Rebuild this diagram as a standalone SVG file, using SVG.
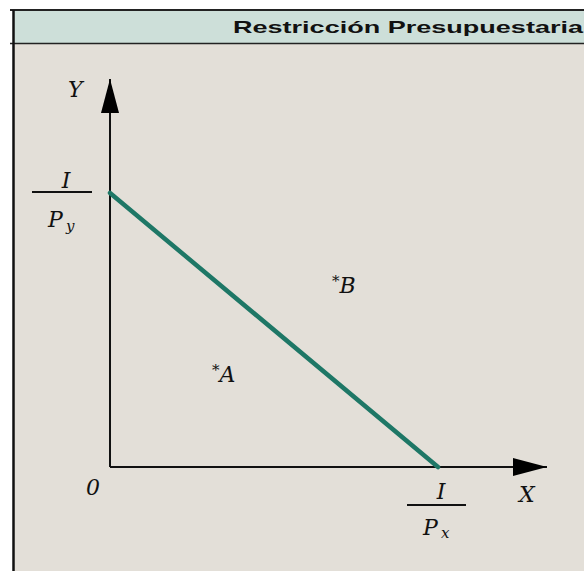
<svg xmlns="http://www.w3.org/2000/svg" width="584" height="571" viewBox="0 0 584 571">
<style>
.m{font-family:"DejaVu Serif","Liberation Serif",serif;font-style:italic;font-size:22px;fill:#111}
.s{font-size:15px}
.ax{stroke:#111;stroke-width:2;fill:none}
.bar{stroke:#111;stroke-width:1.8}
</style>
<defs>
<marker id="ah" markerUnits="userSpaceOnUse" markerWidth="36" markerHeight="22" refX="34" refY="10" orient="auto">
<path d="M0,1 L34,10 L0,19 Z" fill="#000"/>
</marker>
</defs>
<rect x="0" y="0" width="584" height="571" fill="#ffffff"/>
<rect x="13" y="10" width="571" height="33" fill="#cddfd9"/>
<rect x="13" y="43" width="571" height="528" fill="#e3dfd8"/>
<line x1="10" y1="10" x2="584" y2="10" stroke="#222" stroke-width="2"/>
<line x1="10" y1="43.5" x2="584" y2="43.5" stroke="#222" stroke-width="1.5"/>
<line x1="13.5" y1="10" x2="13.5" y2="571" stroke="#111" stroke-width="2.5"/>
<text x="583" y="33" text-anchor="end" font-family="'Liberation Sans',Arial,sans-serif" font-weight="bold" font-size="17" fill="#111" textLength="350" lengthAdjust="spacingAndGlyphs">Restricción Presupuestaria</text>
<g id="connectors">
<line class="ax" x1="110" y1="467" x2="110" y2="79" marker-end="url(#ah)"/>
<line class="ax" x1="110" y1="467" x2="547" y2="467" marker-end="url(#ah)"/>
<line x1="110" y1="193" x2="438" y2="467" stroke="#1e7766" stroke-width="4.5" stroke-linecap="round"/>
</g>
<g id="yaxis-label"><text class="m" x="68" y="97">Y</text></g>
<g id="xaxis-label"><text class="m" x="519" y="502">X</text></g>
<g id="origin"><text class="m" x="86" y="495">0</text></g>
<g id="y-intercept">
<text class="m" x="66" y="188" text-anchor="middle">I</text>
<line class="bar" x1="32" y1="192" x2="92" y2="192"/>
<text class="m" x="48" y="227">P</text>
<text class="m s" x="66" y="231">y</text>
</g>
<g id="x-intercept">
<text class="m" x="441" y="499" text-anchor="middle">I</text>
<line class="bar" x1="407" y1="505" x2="466" y2="505"/>
<text class="m" x="423" y="535">P</text>
<text class="m s" x="441" y="538">x</text>
</g>
<g id="pointA"><text class="m" x="212" y="382"><tspan class="s" dy="-7">*</tspan><tspan dy="7">A</tspan></text></g>
<g id="pointB"><text class="m" x="332" y="293"><tspan class="s" dy="-7">*</tspan><tspan dy="7">B</tspan></text></g>
</svg>
